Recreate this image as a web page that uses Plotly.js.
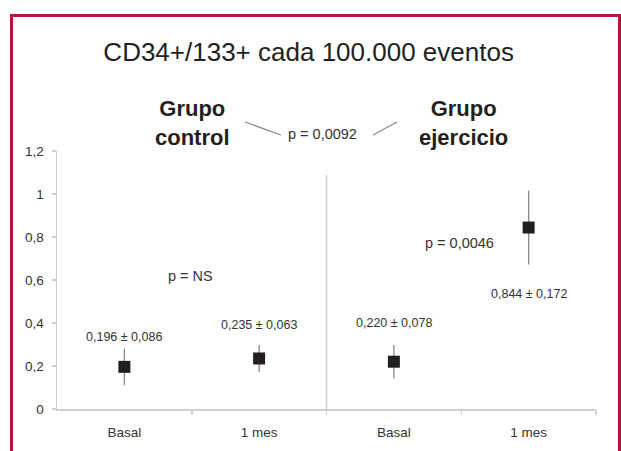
<!DOCTYPE html>
<html>
<head>
<meta charset="utf-8">
<script src="https://cdn.plot.ly/plotly-3.0.1.min.js"></script>
<style>
  html, body { margin: 0; padding: 0; background: #fff; overflow: hidden; }
  #chart { width: 621px; height: 451px; position: relative; }
  #frame { position: absolute; left: 10px; top: 14px; width: 605px; height: 500px;
           border-left: 3px solid #b5123f; border-top: 3px solid #b5123f; border-right: 3px solid #b5123f;
           pointer-events: none; }
</style>
</head>
<body>
<div id="chart"></div>
<div id="frame"></div>
<script>
// ---- data ----
const categories = ["Basal", "1 mes", "Basal", "1 mes"];
const groups = ["control", "control", "ejercicio", "ejercicio"];
const means = [0.196, 0.235, 0.220, 0.844];
const sds = [0.086, 0.063, 0.078, 0.172];
const yTickVals = [0, 0.2, 0.4, 0.6, 0.8, 1, 1.2];
const yTickText = ["0", "0,2", "0,4", "0,6", "0,8", "1", "1,2"];
const labelY = [0.336, 0.391, 0.400, 0.535];
const pTexts = ["p = NS", "p = 0,0046", "p = 0,0092"];

const xIdx = categories.map((c, i) => i);
const fmt = v => v.toFixed(3).replace('.', ',');

const font = "Liberation Sans, Arial, Helvetica, sans-serif";
const dark = "#231f20";
const axisGrey = "#cfcfcf";

const trace = {
  x: xIdx,
  y: means,
  type: "scatter",
  mode: "markers",
  marker: { symbol: "square", size: 12, color: dark },
  error_y: { type: "data", array: sds, visible: true, width: 0, thickness: 1.3, color: "#8a8a8a" },
  hoverinfo: "none",
  showlegend: false
};

const ann = (x, y, xref, yref, text, size, color) => ({
  x, y, xref, yref, text, showarrow: false, xanchor: "center", yanchor: "middle",
  font: { family: font, size, color }
});

const annotations = [];
means.forEach((m, i) => {
  annotations.push(ann(xIdx[i], labelY[i], "x", "y", fmt(m) + " ± " + fmt(sds[i]), 12.5, "#333"));
});
annotations.push(ann(0.494, 0.619, "x", "y", pTexts[0], 14.5, "#333"));
annotations.push(ann(2.49, 0.772, "x", "y", pTexts[1], 14.5, "#333"));
annotations.push(ann(0.4935, 1.064, "paper", "paper", pTexts[2], 14.5, "#333"));
annotations.push(ann(0.252, 1.108, "paper", "paper", "<b>Grupo<br>" + groups[0] + "</b>", 22, dark));
annotations.push(ann(0.754, 1.108, "paper", "paper", "<b>Grupo<br>" + groups[2] + "</b>", 22, dark));

const shapes = [
  { type: "line", xref: "x", yref: "y", x0: 1.5, x1: 1.5, y0: -0.012, y1: 1.088,
    line: { color: axisGrey, width: 1.5 } },
  { type: "line", xref: "paper", yref: "paper", x0: 0.3488, y0: 1.1124, x1: 0.4156, y1: 1.062,
    line: { color: "#888", width: 1.2 } },
  { type: "line", xref: "paper", yref: "paper", x0: 0.5863, y0: 1.062, x1: 0.6308, y1: 1.1124,
    line: { color: "#888", width: 1.2 } }
];

const layout = {
  width: 621, height: 451,
  margin: { l: 57, r: 25, t: 151, b: 42 },
  paper_bgcolor: "#fff", plot_bgcolor: "#fff",
  title: { text: "CD34+/133+ cada 100.000 eventos", x: 0.497, xref: "container", xanchor: "center",
    y: 0.885, yanchor: "middle",
    font: { family: font, size: 26, color: dark } },
  xaxis: {
    range: [-0.5, 3.5], showgrid: false, zeroline: false,
    showline: true, linecolor: axisGrey, linewidth: 1.5,
    tickmode: "array", tickvals: xIdx, ticktext: categories, ticks: "",
    ticklabelstandoff: 10,
    tickfont: { family: font, size: 13.5, color: "#333" },
    minor: { tickmode: "array", tickvals: [0.5, 1.5, 2.5, 3.5], ticks: "outside", ticklen: 4, tickwidth: 1.5, tickcolor: axisGrey },
    fixedrange: true
  },
  yaxis: {
    range: [0, 1.2], showgrid: false, zeroline: false,
    showline: true, linecolor: axisGrey, linewidth: 1.5,
    tickmode: "array", tickvals: yTickVals, ticktext: yTickText,
    ticks: "outside", ticklen: 4, tickwidth: 1.5, tickcolor: axisGrey,
    ticklabelstandoff: 5,
    tickfont: { family: font, size: 13.5, color: "#333" },
    fixedrange: true
  },
  annotations: annotations,
  shapes: shapes
};

Plotly.newPlot("chart", [trace], layout, { displayModeBar: false, staticPlot: true });
</script>
</body>
</html>
